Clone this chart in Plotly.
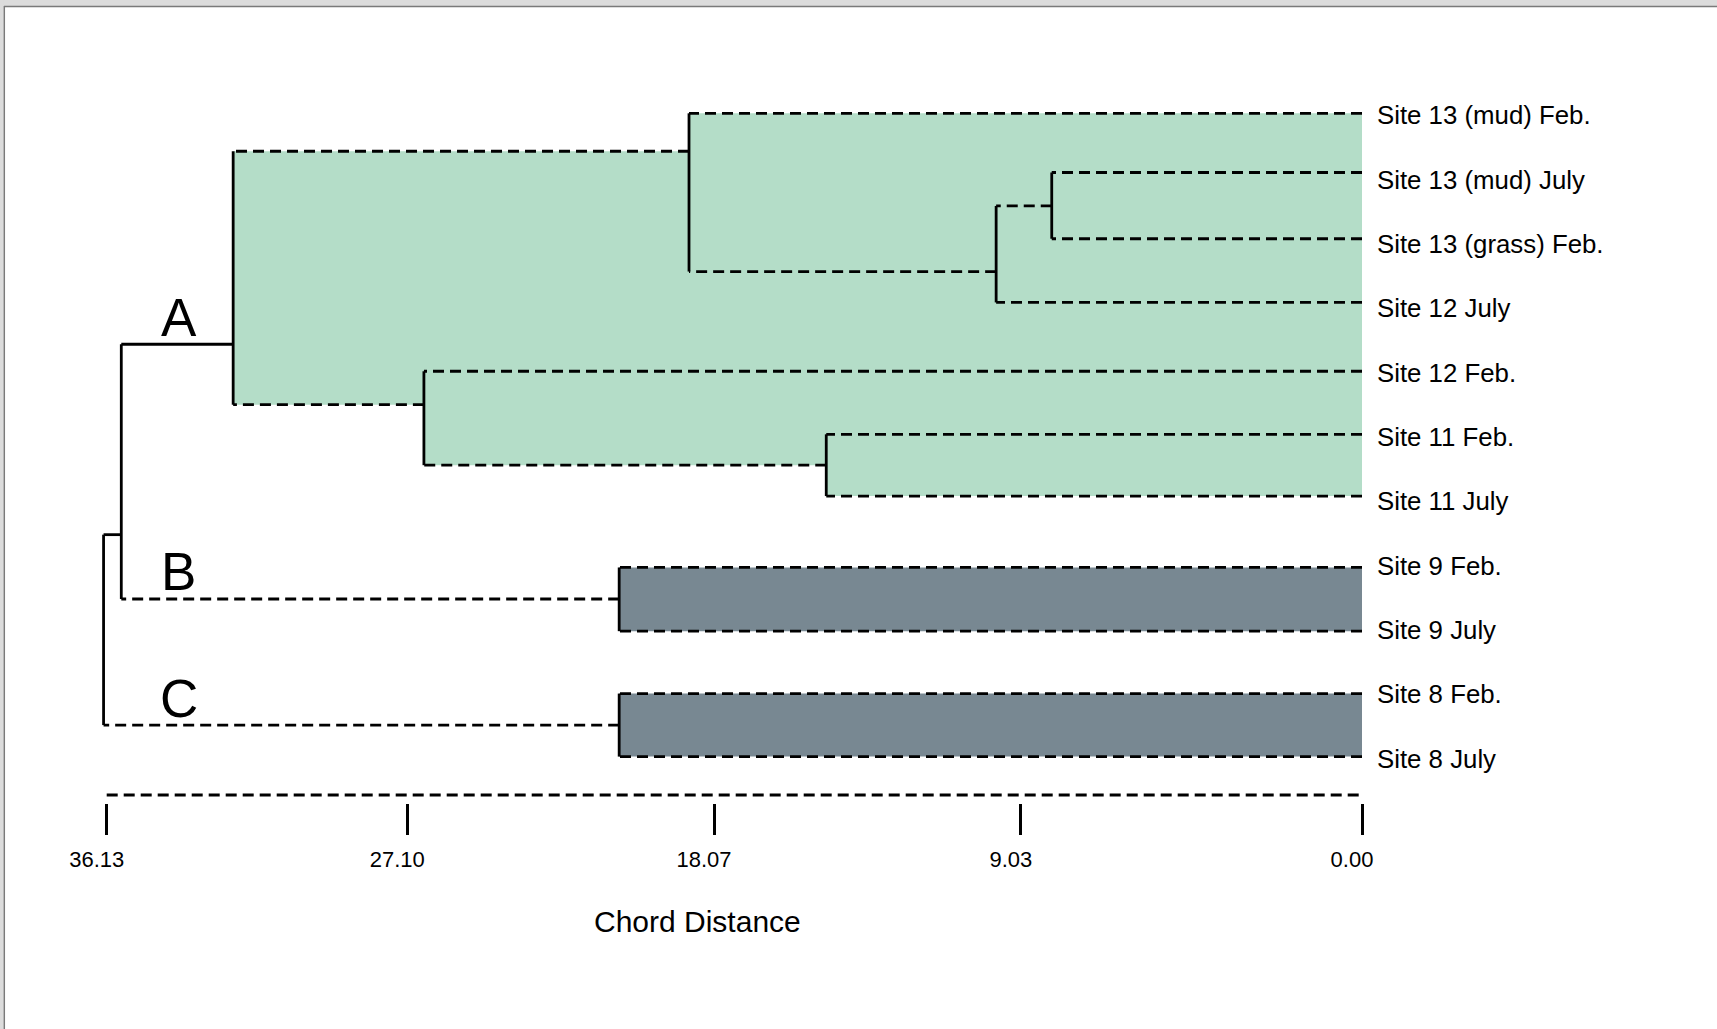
import plotly.graph_objects as go

# ---------------- data ----------------
leaf_labels = [
    "Site 13 (mud) Feb.", "Site 13 (mud) July", "Site 13 (grass) Feb.",
    "Site 12 July", "Site 12 Feb.", "Site 11 Feb.", "Site 11 July",
    "Site 9 Feb.", "Site 9 July", "Site 8 Feb.", "Site 8 July",
]
leaf_ids = ["L%d" % i for i in range(len(leaf_labels))]
label_pos = list(range(len(leaf_labels)))                     # label rows
leaf_pos = [0.0, 0.92, 1.95, 2.94, 4.01, 4.99, 5.95, 7.06, 8.05, 9.02, 10.0]  # leaf line rows

merge_names = ["N1", "N2", "N3", "N4", "N5", "A", "B", "C", "AB", "Root"]
merge_left = ["L1", "N1", "L0", "L5", "L4", "N3", "L7", "L9", "A", "AB"]
merge_right = ["L2", "L3", "N2", "L6", "N4", "N5", "L8", "L10", "B", "C"]
merge_height = [8.93, 10.53, 19.37, 15.42, 27.00, 32.49, 21.38, 21.38, 35.71, 36.22]
merge_pos = [1.44, 2.46, 0.59, 5.47, 4.53, 3.59, 7.55, 9.51, 6.55, 8.03]

cluster_names = ["A", "B", "C"]
cluster_colors = ["#b4ddc8", "#788892", "#788892"]
solid_links = ["A", "AB"]

tick_positions = [36.13, 27.48, 18.65, 9.82, 0.00]
tick_labels = ["36.13", "27.10", "18.07", "9.03", "0.00"]
axis_title = "Chord Distance"

# ---------------- build tree geometry ----------------
height = {lid: 0.0 for lid in leaf_ids}
pos = {lid: p for lid, p in zip(leaf_ids, leaf_pos)}
left, right = {}, {}
for n, l, r, h, p in zip(merge_names, merge_left, merge_right, merge_height, merge_pos):
    height[n] = h
    pos[n] = p
    left[n] = l
    right[n] = r

solid_x, solid_y, dash_x, dash_y = [], [], [], []
for n in merge_names:
    h = height[n]
    solid_x += [h, h, None]
    solid_y += [pos[left[n]], pos[right[n]], None]
    for c in (left[n], right[n]):
        xs = [height[c], h, None]
        ys = [pos[c], pos[c], None]
        if c in solid_links:
            solid_x += xs
            solid_y += ys
        else:
            dash_x += xs
            dash_y += ys


def edge_path(node, side):
    pts = []
    n = node
    while n in left:
        child = left[n] if side == "top" else right[n]
        pts.append((height[n], pos[child]))
        pts.append((height[child], pos[child]))
        n = child
    return pts


FONT = "Liberation Sans, Arial, Helvetica, sans-serif"
LW = 2.8
DASH = "11px,6px"

fig = go.Figure()

for cname, col in zip(cluster_names, cluster_colors):
    poly = edge_path(cname, "top") + edge_path(cname, "bottom")[::-1]
    fig.add_trace(go.Scatter(
        x=[p[0] for p in poly] + [poly[0][0]],
        y=[p[1] for p in poly] + [poly[0][1]],
        mode="lines", fill="toself", fillcolor=col,
        line=dict(width=0, color=col), hoverinfo="skip", showlegend=False,
    ))

fig.add_trace(go.Scatter(x=dash_x, y=dash_y, mode="lines",
                         line=dict(color="black", width=LW, dash=DASH),
                         hoverinfo="skip", showlegend=False))
fig.add_trace(go.Scatter(x=solid_x, y=solid_y, mode="lines",
                         line=dict(color="black", width=LW),
                         hoverinfo="skip", showlegend=False))

# ---------------- layout ----------------
W, H = 1717, 1029
ML, MR, MT, MB = 60, 355.3, 60, 226
PW, PH = W - ML - MR, H - MT - MB


def px_x(px):
    return (px - ML) / PW


def px_y(py):
    return (H - MB - py) / PH


# cluster letters
for cname in cluster_names:
    fig.add_annotation(x=34.05, y=pos[cname], xref="x", yref="y",
                       text=cname, showarrow=False, yshift=27,
                       xanchor="center", yanchor="middle",
                       font=dict(family=FONT, size=53, color="black"))

# axis title
fig.add_annotation(x=px_x(697.8), y=px_y(921.5), xref="paper", yref="paper",
                   text=axis_title, showarrow=False, xanchor="center", yanchor="middle",
                   font=dict(family=FONT, size=30, color="black"))

shapes = [
    # dashed axis baseline
    dict(type="line", xref="x", yref="paper", x0=tick_positions[0], x1=tick_positions[-1],
         y0=px_y(795), y1=px_y(795), line=dict(color="black", width=LW, dash=DASH)),
    # window frame
    dict(type="rect", xref="paper", yref="paper", x0=px_x(0), x1=px_x(W),
         y0=px_y(0), y1=px_y(6), fillcolor="#dcdcdc", line=dict(width=0), layer="above"),
    dict(type="rect", xref="paper", yref="paper", x0=px_x(0), x1=px_x(3.6),
         y0=px_y(0), y1=px_y(H), fillcolor="#dcdcdc", line=dict(width=0), layer="above"),
    dict(type="line", xref="paper", yref="paper", x0=px_x(4), x1=px_x(W),
         y0=px_y(6.6), y1=px_y(6.6), line=dict(color="#7a7a7a", width=1.5), layer="above"),
    dict(type="line", xref="paper", yref="paper", x0=px_x(4.3), x1=px_x(4.3),
         y0=px_y(6), y1=px_y(H), line=dict(color="#7a7a7a", width=1.5), layer="above"),
]

fig.update_layout(
    width=W, height=H,
    margin=dict(l=ML, r=MR, t=MT, b=MB, pad=0),
    paper_bgcolor="white", plot_bgcolor="white",
    showlegend=False,
    shapes=shapes,
    xaxis=dict(
        range=[37.474, 0], showgrid=False, zeroline=False, showline=False,
        tickmode="array", tickvals=tick_positions, ticktext=tick_labels,
        ticks="outside", ticklen=31, tickwidth=LW, tickcolor="black",
        ticklabelstandoff=6, ticklabelshift=10,
        tickfont=dict(family=FONT, size=22, color="black"),
        automargin=False, fixedrange=True,
    ),
    yaxis=dict(
        range=[10.7213, -0.8286], showgrid=False, zeroline=False, showline=False,
        side="right", tickmode="array", tickvals=label_pos, ticktext=leaf_labels,
        ticks="", ticklabelstandoff=14, ticklabelshift=-2,
        tickfont=dict(family=FONT, size=25.8, color="black"),
        automargin=False, fixedrange=True,
    ),
)

fig.write_html("out.html", config={"displayModeBar": False})
